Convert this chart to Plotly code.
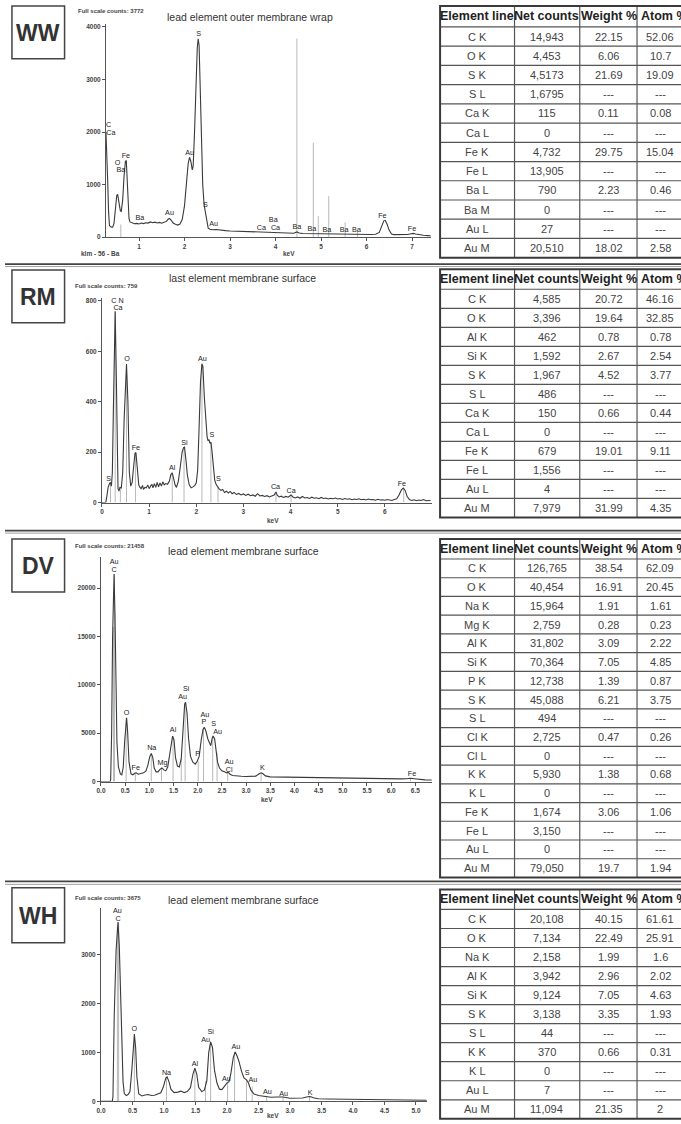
import plotly.graph_objects as go

W, H = 681, 1124

# ---------------- DATA ----------------
# WW spectrum
ww_kev = [0.273,0.29,0.31,0.33,0.35,0.38,0.42,0.45,0.48,0.51,0.53,0.56,0.59,0.61,0.64,0.67,0.70,0.72,0.74,0.76,0.78,0.80,0.85,0.90,0.95,1.00,1.05,1.10,1.15,1.20,1.25,1.30,1.35,1.40,1.45,1.50,1.55,1.60,1.64,1.67,1.70,1.75,1.80,1.85,1.90,1.95,2.00,2.04,2.08,2.11,2.14,2.17,2.19,2.22,2.25,2.28,2.30,2.32,2.34,2.37,2.40,2.43,2.46,2.49,2.52,2.56,2.62,2.70,2.80,2.90,3.00,3.10,3.20,3.30,3.40,3.50,3.60,3.70,3.80,3.90,4.00,4.10,4.20,4.30,4.40,4.47,4.52,4.60,4.70,4.80,4.90,5.00,5.10,5.20,5.30,5.40,5.50,5.60,5.70,5.80,5.90,6.00,6.10,6.20,6.28,6.33,6.38,6.41,6.45,6.50,6.55,6.60,6.70,6.80,6.90,6.98,7.03,7.08,7.15,7.25,7.35,7.41]
ww_cts = [2000,1700,1100,500,220,195,190,260,560,790,815,640,500,490,700,1150,1440,1460,1100,600,350,290,265,255,262,250,270,258,275,268,290,275,285,270,280,265,282,300,340,355,330,270,245,230,250,340,600,1000,1400,1520,1440,1280,1350,2000,2900,3600,3772,3650,3000,1900,1000,620,470,300,170,150,140,145,130,125,118,115,110,108,100,98,95,100,90,88,92,85,80,78,75,100,80,70,68,72,62,60,58,55,55,52,55,50,52,55,50,52,50,55,90,200,310,320,250,130,60,48,45,45,50,65,72,60,45,35,30,25]
ww_mark_kev = [0.60, 4.47, 4.83, 4.94, 5.17, 5.53, 5.80]
ww_mark_cts = [240, 3780, 1800, 400, 780, 280, 150]
ww_lab = ["C","Ca","O","Ba","Fe","Ba","Au","Au","S","S","Au","Ca","Ba","Ca","Ba","Ba","Ba","Ba","Ba","Fe","Fe"]
ww_lab_kev = [0.33,0.38,0.53,0.60,0.71,1.02,1.67,2.11,2.31,2.46,2.64,3.69,3.95,4.00,4.47,4.80,5.13,5.51,5.78,6.35,7.00]
ww_lab_cts = [2124,1978,1416,1270,1542,354,449,1605,3861,607,246,177,322,177,196,145,133,133,133,404,145]

# RM spectrum
rm_kev = [0.00,0.08,0.10,0.13,0.16,0.18,0.20,0.22,0.24,0.26,0.28,0.30,0.32,0.34,0.36,0.38,0.41,0.44,0.47,0.50,0.52,0.55,0.58,0.61,0.64,0.67,0.70,0.72,0.75,0.78,0.80,0.83,0.86,0.88,0.91,0.94,0.97,1.00,1.03,1.06,1.08,1.11,1.14,1.17,1.20,1.23,1.26,1.29,1.32,1.35,1.39,1.43,1.46,1.49,1.52,1.55,1.58,1.62,1.66,1.70,1.73,1.75,1.78,1.81,1.85,1.89,1.93,1.97,2.00,2.03,2.06,2.09,2.12,2.14,2.17,2.20,2.23,2.25,2.27,2.29,2.31,2.33,2.36,2.39,2.42,2.45,2.48,2.52,2.56,2.60,2.64,2.68,2.72,2.76,2.80,2.85,2.90,2.95,3.00,3.05,3.10,3.15,3.20,3.25,3.30,3.35,3.40,3.45,3.50,3.55,3.60,3.65,3.69,3.72,3.76,3.80,3.85,3.90,3.95,4.01,4.05,4.10,4.15,4.20,4.25,4.30,4.35,4.40,4.45,4.50,4.55,4.60,4.65,4.70,4.75,4.80,4.85,4.90,4.95,5.00,5.05,5.10,5.15,5.20,5.25,5.30,5.35,5.40,5.45,5.50,5.55,5.60,5.65,5.70,5.75,5.80,5.85,5.90,5.95,6.00,6.05,6.10,6.15,6.20,6.25,6.30,6.35,6.39,6.43,6.47,6.52,6.57,6.62,6.67,6.72,6.77,6.82,6.87,6.92,6.97]
rm_cts = [0,0,20,60,75,80,65,120,350,650,758,550,200,55,45,60,58,120,330,520,550,400,120,65,80,140,195,198,120,70,62,55,68,52,60,58,70,55,65,72,58,75,60,80,62,78,65,82,70,75,72,85,110,118,95,70,60,85,140,200,218,220,170,110,70,58,62,68,78,130,300,480,550,540,420,320,260,245,250,235,240,210,150,90,72,60,55,48,52,40,45,38,44,35,40,32,36,30,34,28,33,27,30,25,35,26,28,24,27,22,26,30,42,28,22,25,20,24,21,30,22,18,22,17,24,18,20,16,21,17,19,15,20,16,18,14,17,15,18,14,16,12,16,13,15,11,14,12,15,11,13,10,14,11,12,9,13,10,11,9,12,10,8,12,15,30,50,57,48,25,12,8,11,7,10,8,12,7,9,8]
rm_mark_kev = [0.18,0.28,0.39,0.52,0.71,1.49,1.74,2.12,2.31,2.46,3.69,4.01,6.40]
rm_mark_cts = [80,760,60,550,200,118,220,550,240,60,42,30,57]
rm_lab = ["S","C N","Ca","O","Fe","Al","Si","Au","S","S","Ca","Ca","Fe"]
rm_lab_kev = [0.14,0.33,0.34,0.53,0.72,1.49,1.75,2.13,2.33,2.47,3.68,4.01,6.36]
rm_lab_cts = [92,800,771,569,217,138,236,569,266,92,59,46,72]

# DV spectrum
dv_kev = [0.00,0.19,0.20,0.22,0.24,0.26,0.27,0.29,0.31,0.33,0.36,0.40,0.43,0.46,0.49,0.52,0.53,0.55,0.58,0.62,0.66,0.70,0.73,0.77,0.82,0.88,0.93,0.97,1.01,1.04,1.07,1.10,1.14,1.18,1.22,1.26,1.30,1.34,1.38,1.42,1.46,1.48,1.51,1.54,1.58,1.62,1.66,1.70,1.73,1.75,1.78,1.81,1.85,1.90,1.95,1.99,2.03,2.07,2.11,2.14,2.17,2.21,2.25,2.27,2.30,2.32,2.35,2.38,2.41,2.45,2.50,2.55,2.60,2.63,2.67,2.72,2.80,2.90,3.00,3.10,3.20,3.27,3.31,3.35,3.40,3.50,3.60,3.80,4.00,4.20,4.40,4.60,4.80,5.00,5.20,5.40,5.60,5.80,6.00,6.20,6.32,6.40,6.48,6.60,6.70,6.84]
dv_cts = [0,0,200,5000,15000,20500,21458,17000,10000,4000,1500,800,700,1500,4200,6500,6600,5200,2000,800,700,850,900,750,800,900,1100,1700,2600,2900,2500,1400,1000,1000,1250,1400,1200,1100,1500,2700,4300,4700,4300,2500,1600,1500,2400,5500,8000,8200,7000,4500,2600,2000,1800,2100,2600,4200,5400,5600,5200,4400,3900,3700,4500,4700,4400,3200,2000,1400,1100,1000,900,950,750,620,560,540,520,520,560,800,900,800,580,480,470,450,430,410,400,380,370,350,330,320,310,290,280,270,290,340,290,200,170,150]
dv_mark_kev = [0.26,0.28,0.52,0.71,1.04,1.25,1.49,1.66,1.74,2.01,2.12,2.31,2.40,2.62,3.31,6.40]
dv_mark_cts = [16000,21458,6600,900,2900,1400,4700,2400,8200,2100,5600,4700,3000,950,900,340]
dv_lab = ["Au","C","O","Fe","Na","Mg","Al","Si","Au","Au","P","S","Au","P","Au","Cl","K","Fe"]
dv_lab_kev = [0.27,0.27,0.53,0.72,1.05,1.27,1.49,1.76,1.69,2.15,2.13,2.33,2.41,2.00,2.65,2.65,3.34,6.43]
dv_lab_cts = [22680,21900,7110,1375,3440,1890,5260,9550,8760,6870,6120,5910,5090,2820,1990,1200,1375,790]

# WH spectrum
wh_kev = [0.00,0.18,0.19,0.21,0.24,0.26,0.27,0.29,0.31,0.33,0.35,0.37,0.40,0.43,0.46,0.49,0.51,0.53,0.55,0.57,0.60,0.65,0.70,0.75,0.80,0.85,0.90,0.95,0.99,1.03,1.05,1.08,1.11,1.16,1.22,1.27,1.32,1.37,1.42,1.46,1.49,1.52,1.55,1.60,1.64,1.68,1.71,1.74,1.77,1.80,1.84,1.88,1.92,1.96,2.00,2.03,2.06,2.10,2.13,2.16,2.19,2.23,2.27,2.31,2.34,2.38,2.43,2.50,2.57,2.63,2.70,2.80,2.89,3.00,3.10,3.20,3.28,3.32,3.37,3.45,3.60,3.80,4.00,4.20,4.40,4.60,4.80,5.00,5.17]
wh_cts = [0,0,100,1750,3100,3600,3675,3200,2200,1100,400,160,120,140,200,650,1150,1380,1100,500,150,110,130,140,120,125,150,175,300,480,500,400,250,180,190,210,180,200,280,560,680,560,290,200,230,420,1000,1220,1100,650,380,250,240,310,380,400,560,900,1010,930,820,620,480,440,380,230,150,120,110,105,85,90,88,65,62,70,95,100,75,55,50,48,42,38,35,32,28,24,22]
wh_mark_kev = [0.26,0.28,0.53,1.04,1.49,1.66,1.74,2.01,2.12,2.31,2.40,2.63,2.89,3.31]
wh_mark_cts = [3600,3675,1380,500,680,420,1220,400,1010,440,300,105,88,100]
wh_lab = ["Au","C","O","Na","Al","Si","Au","Au","S","Au","Au","Au","Au","K"]
wh_lab_kev = [0.26,0.27,0.53,1.04,1.49,1.74,1.66,2.14,2.32,2.41,1.99,2.64,2.90,3.32]
wh_lab_cts = [3900,3740,1483,578,755,1420,1255,1109,585,442,463,190,156,177]

# Tables
hdr = ["Element line", "Net counts", "Weight %", "Atom %"]
ww_el = ["C K","O K","S K","S L","Ca K","Ca L","Fe K","Fe L","Ba L","Ba M","Au L","Au M"]
ww_net = ["14,943","4,453","4,5173","1,6795","115","0","4,732","13,905","790","0","27","20,510"]
ww_wt = ["22.15","6.06","21.69","---","0.11","---","29.75","---","2.23","---","---","18.02"]
ww_at = ["52.06","10.7","19.09","---","0.08","---","15.04","---","0.46","---","---","2.58"]

rm_el = ["C K","O K","Al K","Si K","S K","S L","Ca K","Ca L","Fe K","Fe L","Au L","Au M"]
rm_net = ["4,585","3,396","462","1,592","1,967","486","150","0","679","1,556","4","7,979"]
rm_wt = ["20.72","19.64","0.78","2.67","4.52","---","0.66","---","19.01","---","---","31.99"]
rm_at = ["46.16","32.85","0.78","2.54","3.77","---","0.44","---","9.11","---","---","4.35"]

dv_el = ["C K","O K","Na K","Mg K","Al K","Si K","P K","S K","S L","Cl K","Cl L","K K","K L","Fe K","Fe L","Au L","Au M"]
dv_net = ["126,765","40,454","15,964","2,759","31,802","70,364","12,738","45,088","494","2,725","0","5,930","0","1,674","3,150","0","79,050"]
dv_wt = ["38.54","16.91","1.91","0.28","3.09","7.05","1.39","6.21","---","0.47","---","1.38","---","3.06","---","---","19.7"]
dv_at = ["62.09","20.45","1.61","0.23","2.22","4.85","0.87","3.75","---","0.26","---","0.68","---","1.06","---","---","1.94"]

wh_el = ["C K","O K","Na K","Al K","Si K","S K","S L","K K","K L","Au L","Au M"]
wh_net = ["20,108","7,134","2,158","3,942","9,124","3,138","44","370","0","7","11,094"]
wh_wt = ["40.15","22.49","1.99","2.96","7.05","3.35","---","0.66","---","---","21.35"]
wh_at = ["61.61","25.91","1.6","2.02","4.63","1.93","---","0.31","---","---","2"]

# ---------------- LAYOUT HELPERS ----------------
def px(x):
    return x / W

def py(y):
    return 1 - y / H

FONT = "Liberation Sans"
DARK = "#333333"

fig = go.Figure()
layout = dict(width=W, height=H, margin=dict(l=0, r=0, t=0, b=0),
              paper_bgcolor="white", plot_bgcolor="white", showlegend=False)
shapes = []
annotations = []

panels = [
    dict(name="WW", title="lead element outer membrane wrap", fsc="Full scale counts: 3772",
         kev=ww_kev, cts=ww_cts, mk=ww_mark_kev, mc=ww_mark_cts, lab=ww_lab, lk=ww_lab_kev, lc=ww_lab_cts,
         xd=(101.7, 429), xr=(0.273, 7.414), yd=(237, 23.3), yr=(0, 4051),
         xt=[1, 2, 3, 4, 5, 6, 7], xfmt="{:d}", yt=[0, 1000, 2000, 3000, 4000],
         box=(7, 5, 60, 58), title_xy=(247, 16), fsc_xy=(72, 10.5), kev_xy=(286, 253.5),
         extra=("klm - 56 - Ba", 75, 253.5),
         table=(ww_el, ww_net, ww_wt, ww_at), ttop=5, hh=21, rh=19.3),
    dict(name="RM", title="last element membrane surface", fsc="Full scale counts: 759",
         kev=rm_kev, cts=rm_cts, mk=rm_mark_kev, mc=rm_mark_cts, lab=rm_lab, lk=rm_lab_kev, lc=rm_lab_cts,
         xd=(97.7, 430), xr=(0, 6.996), yd=(503.3, 298.3), yr=(0, 810.6),
         xt=[0, 1, 2, 3, 4, 5, 6], xfmt="{:d}", yt=[0, 200, 400, 600, 800],
         box=(7, 270, 60, 323), title_xy=(239, 278), fsc_xy=(68, 285.7), kev_xy=(270, 521.7),
         extra=None,
         table=(rm_el, rm_net, rm_wt, rm_at), ttop=269.3, hh=20, rh=19.08),
    dict(name="DV", title="lead element membrane surface", fsc="Full scale counts: 21458",
         kev=dv_kev, cts=dv_cts, mk=dv_mark_kev, mc=dv_mark_cts, lab=dv_lab, lk=dv_lab_kev, lc=dv_lab_cts,
         xd=(96.7, 430), xr=(0, 6.841), yd=(783.3, 558.3), yr=(0, 23196),
         xt=[0.0, 0.5, 1.0, 1.5, 2.0, 2.5, 3.0, 3.5, 4.0, 4.5, 5.0, 5.5, 6.0, 6.5], xfmt="{:.1f}",
         yt=[0, 5000, 10000, 15000, 20000],
         box=(7, 540, 60, 593), title_xy=(240, 551.7), fsc_xy=(68, 546.7), kev_xy=(264, 801.7),
         extra=None,
         table=(dv_el, dv_net, dv_wt, dv_at), ttop=540, hh=20, rh=18.8),
    dict(name="WH", title="lead element membrane surface", fsc="Full scale counts: 3675",
         kev=wh_kev, cts=wh_cts, mk=wh_mark_kev, mc=wh_mark_cts, lab=wh_lab, lk=wh_lab_kev, lc=wh_lab_cts,
         xd=(96.7, 425), xr=(0, 5.173), yd=(1104.3, 910), yr=(0, 3965),
         xt=[0.0, 0.5, 1.0, 1.5, 2.0, 2.5, 3.0, 3.5, 4.0, 4.5, 5.0], xfmt="{:.1f}",
         yt=[0, 1000, 2000, 3000],
         box=(7, 890, 60, 945), title_xy=(240, 902.3), fsc_xy=(68, 900.7), kev_xy=(270, 1118.3),
         extra=None,
         table=(wh_el, wh_net, wh_wt, wh_at), ttop=891.7, hh=20, rh=19.1),
]

tick_font = dict(family=FONT, size=6.5, color="#444444", weight="bold")
col_edges = [438.3, 513.3, 579.0, 636.7, 700.0]
col_cent = [475.8, 546.0, 608.0, 660.0]

for i, p in enumerate(panels):
    n = i + 1
    xa = "x" if n == 1 else f"x{n}"
    ya = "y" if n == 1 else f"y{n}"
    xkey = "xaxis" if n == 1 else f"xaxis{n}"
    ykey = "yaxis" if n == 1 else f"yaxis{n}"

    # peak marker lines
    mx, my = [], []
    for k, c in zip(p["mk"], p["mc"]):
        mx += [k, k, None]
        my += [0, c, None]
    fig.add_trace(go.Scatter(x=mx, y=my, mode="lines", xaxis=xa, yaxis=ya,
                             line=dict(color="#b8b8b8", width=1), hoverinfo="skip"))
    # spectrum
    fig.add_trace(go.Scatter(x=p["kev"], y=p["cts"], mode="lines", xaxis=xa, yaxis=ya,
                             line=dict(color="#3a3a3a", width=1.1), hoverinfo="skip"))
    # peak labels
    fig.add_trace(go.Scatter(x=p["lk"], y=p["lc"], mode="text", text=p["lab"], xaxis=xa, yaxis=ya,
                             textfont=dict(family=FONT, size=7.2, color="#222222"),
                             textposition="middle center", hoverinfo="skip", cliponaxis=False))

    layout[xkey] = dict(domain=[px(p["xd"][0]), px(p["xd"][1])], range=list(p["xr"]),
                        anchor=ya, showgrid=False, zeroline=False, showline=True,
                        linecolor="#555555", linewidth=1, ticks="outside", ticklen=3,
                        tickcolor="#555555", tickvals=p["xt"],
                        ticktext=[p["xfmt"].format(v) for v in p["xt"]],
                        tickfont=tick_font, fixedrange=True)
    layout[ykey] = dict(domain=[py(p["yd"][0]), py(p["yd"][1])], range=list(p["yr"]),
                        anchor=xa, showgrid=False, zeroline=False, showline=True,
                        linecolor="#555555", linewidth=1, ticks="outside", ticklen=3,
                        tickcolor="#555555", tickvals=p["yt"],
                        ticktext=[str(v) for v in p["yt"]],
                        tickfont=tick_font, fixedrange=True)

    # label box
    b = p["box"]
    shapes.append(dict(type="rect", xref="paper", yref="paper",
                       x0=px(b[0]), x1=px(b[2]), y0=py(b[1]), y1=py(b[3]),
                       line=dict(color="#444444", width=1.5), fillcolor="white"))
    annotations.append(dict(x=px((b[0] + b[2]) / 2), y=py((b[1] + b[3]) / 2 + 0.5), xref="paper", yref="paper",
                            text=p["name"], showarrow=False, xanchor="center", yanchor="middle",
                            font=dict(family=FONT, size=23, color=DARK, weight="bold")))
    # title
    annotations.append(dict(x=px(p["title_xy"][0]), y=py(p["title_xy"][1]), xref="paper", yref="paper",
                            text=p["title"], showarrow=False, xanchor="center", yanchor="middle",
                            font=dict(family=FONT, size=10.5, color=DARK)))
    # full scale counts
    annotations.append(dict(x=px(p["fsc_xy"][0]), y=py(p["fsc_xy"][1]), xref="paper", yref="paper",
                            text=p["fsc"], showarrow=False, xanchor="left", yanchor="middle",
                            font=dict(family=FONT, size=6, color="#444444", weight="bold")))
    # keV
    annotations.append(dict(x=px(p["kev_xy"][0]), y=py(p["kev_xy"][1]), xref="paper", yref="paper",
                            text="keV", showarrow=False, xanchor="center", yanchor="middle",
                            font=dict(family=FONT, size=6.5, color="#444444", weight="bold")))
    if p["extra"]:
        annotations.append(dict(x=px(p["extra"][1]), y=py(p["extra"][2]), xref="paper", yref="paper",
                                text=p["extra"][0], showarrow=False, xanchor="left", yanchor="middle",
                                font=dict(family=FONT, size=6.5, color="#444444", weight="bold")))

    # table grid + cells (rows/columns from the table lists)
    cols = p["table"]
    nrows = len(cols[0])
    top = p["ttop"]
    bounds = [top, top + p["hh"]] + [top + p["hh"] + p["rh"] * (r + 1) for r in range(nrows)]
    bot = bounds[-1]
    for yb in bounds[1:-1]:
        shapes.append(dict(type="line", xref="paper", yref="paper", x0=px(col_edges[0]), x1=px(col_edges[-1]),
                           y0=py(yb), y1=py(yb), line=dict(color="#555555", width=1.2)))
    for xb in col_edges[1:-1]:
        shapes.append(dict(type="line", xref="paper", yref="paper", x0=px(xb), x1=px(xb),
                           y0=py(top), y1=py(bot), line=dict(color="#555555", width=1.2)))
    shapes.append(dict(type="rect", xref="paper", yref="paper", x0=px(col_edges[0]), x1=px(col_edges[-1]),
                       y0=py(top), y1=py(bot), line=dict(color="#3a3a3a", width=2)))
    # header
    for c, h in enumerate(hdr):
        if c < 3:
            annotations.append(dict(x=px(col_cent[c]), y=py((bounds[0] + bounds[1]) / 2), xref="paper", yref="paper",
                                    text=f"<b>{h}</b>", showarrow=False, xanchor="center", yanchor="middle",
                                    font=dict(family=FONT, size=12.5, color="#222222")))
        else:
            annotations.append(dict(x=px(col_edges[3] + 2), y=py((bounds[0] + bounds[1]) / 2), xref="paper", yref="paper",
                                    text=f"<b>{h}</b>", showarrow=False, xanchor="left", yanchor="middle",
                                    font=dict(family=FONT, size=12.5, color="#222222")))
    for r in range(nrows):
        yc = (bounds[r + 1] + bounds[r + 2]) / 2
        for c in range(4):
            annotations.append(dict(x=px(col_cent[c]), y=py(yc), xref="paper", yref="paper",
                                    text=cols[c][r], showarrow=False, xanchor="center", yanchor="middle",
                                    font=dict(family=FONT, size=11, color="#444444")))

# separators
for y0, y1 in [(264, 266.5), (531.5, 534), (883.5, 886.5)]:
    shapes.append(dict(type="line", xref="paper", yref="paper", x0=0, x1=1, y0=py(y0), y1=py(y0),
                       line=dict(color="#444444", width=1.8)))
    shapes.append(dict(type="line", xref="paper", yref="paper", x0=0, x1=1, y0=py(y1), y1=py(y1),
                       line=dict(color="#a0a0a0", width=1)))

layout["shapes"] = shapes
layout["annotations"] = annotations
fig.update_layout(**layout)
fig.write_html("out.html",
               config={"displayModeBar": False},
               post_script="document.body.style.margin='0';document.body.style.padding='0';"
                           "document.body.style.overflow='hidden';")
